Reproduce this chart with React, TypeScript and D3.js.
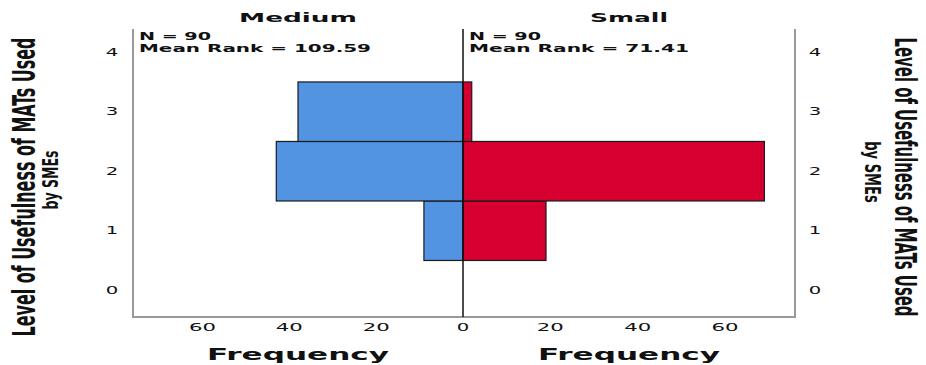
import React from "react";
import * as d3 from "d3";

const levels = [0, 1, 2, 3, 4];
const barLevels = [1, 2, 3];
const mediumFreq = [9, 43, 38];
const smallFreq = [19, 69, 2];
const freqTicks = [0, 20, 40, 60];
const panels = ["Medium", "Small"];
const statsN = ["N = 90", "N = 90"];
const statsRank = ["Mean Rank = 109.59", "Mean Rank = 71.41"];
const yTitle = ["Level of Usefulness of MATs Used", "by SMEs"];

const W = 926;
const H = 365;
const left = 133;
const mid = 463;
const right = 795;
const top = 29;
const bottom = 317;

// the picture is stretched sideways, so text is squeezed / widened to a measured length
const WideText = ({ x, y, len, size, bold = false, anchor = "start", children }: any) => (
  <text
    x={x}
    y={y}
    textAnchor={anchor}
    fontFamily="DejaVu Sans"
    fontWeight={bold ? "bold" : "normal"}
    fontSize={size}
    textLength={len}
    lengthAdjust="spacingAndGlyphs"
    fill="#111"
  >
    {children}
  </text>
);

// rotated title, condensed along its length
const SideTitle = ({ x, y, angle, len, size, stretch, children }: any) => (
  <g transform={`translate(${x},${y}) rotate(${angle}) scale(1,${stretch})`}>
    <text
      x={0}
      y={0}
      textAnchor="middle"
      fontFamily="DejaVu Sans Condensed, DejaVu Sans"
      fontWeight="bold"
      fontSize={size}
      textLength={len}
      lengthAdjust="spacingAndGlyphs"
      fill="#111"
    >
      {children}
    </text>
  </g>
);

// short rotated line, scaled explicitly (x along the text, y across it)
const SideLine = ({ x, y, angle, sx, sy, size, children }: any) => (
  <g transform={`translate(${x},${y}) rotate(${angle}) scale(${sx},${sy})`}>
    <text x={0} y={0} textAnchor="middle" fontFamily="DejaVu Sans" fontWeight="bold" fontSize={size} fill="#111">
      {children}
    </text>
  </g>
);

const App = () => {
  const xL = d3.scaleLinear().domain([0, 76]).range([mid, left]);
  const xR = d3.scaleLinear().domain([0, 76]).range([mid, right]);
  const y = d3.scaleLinear().domain([-0.45, 4.39]).range([bottom, top]);
  const bandH = y(0) - y(1);
  const digitW = 12.5;

  return (
    <svg width={W} height={H} style={{ position: "absolute", left: 0, top: 0, background: "#fff" }}>
      {/* bars */}
      {barLevels.map((lv, i) => (
        <rect
          key={"m" + lv}
          x={xL(mediumFreq[i])}
          y={y(lv + 0.5)}
          width={xL(0) - xL(mediumFreq[i])}
          height={bandH}
          fill="#5294e2"
          stroke="#1a1a1a"
          strokeWidth={1.2}
        />
      ))}
      {barLevels.map((lv, i) => (
        <rect
          key={"s" + lv}
          x={xR(0)}
          y={y(lv + 0.5)}
          width={xR(smallFreq[i]) - xR(0)}
          height={bandH}
          fill="#d60030"
          stroke="#1a1a1a"
          strokeWidth={1.2}
        />
      ))}

      {/* frame */}
      <line x1={left} x2={left} y1={top} y2={bottom + 1} stroke="#999" strokeWidth={2} />
      <line x1={right} x2={right} y1={top} y2={bottom + 1} stroke="#999" strokeWidth={2} />
      <line x1={left} x2={right} y1={bottom} y2={bottom} stroke="#999" strokeWidth={2} />
      <line x1={mid} x2={mid} y1={top} y2={bottom} stroke="#111" strokeWidth={1.5} />

      {/* y tick labels */}
      {levels.map((lv) => (
        <g key={"y" + lv}>
          <WideText x={112} y={y(lv) + 3.5} len={digitW} size={10} anchor="middle">{lv}</WideText>
          <WideText x={815} y={y(lv) + 3.5} len={digitW} size={10} anchor="middle">{lv}</WideText>
        </g>
      ))}

      {/* x tick labels */}
      {freqTicks.map((t) => {
        const len = t === 0 ? digitW : digitW * 2 + 2;
        return (
          <g key={"x" + t}>
            <WideText x={xL(t)} y={331} len={len} size={10} anchor="middle">{t}</WideText>
            {t > 0 && (
              <WideText x={xR(t)} y={331} len={len} size={10} anchor="middle">{t}</WideText>
            )}
          </g>
        );
      })}

      {/* panel titles, stats, frequency labels */}
      {panels.map((p, i) => {
        const cx = i === 0 ? (left + mid) / 2 : (mid + right) / 2;
        const x0 = i === 0 ? left : mid;
        return (
          <g key={p}>
            <WideText x={cx} y={22} len={i === 0 ? 118 : 78} size={13} bold anchor="middle">{p}</WideText>
            <WideText x={x0 + 6} y={40} len={72} size={10.5} bold>{statsN[i]}</WideText>
            <WideText x={x0 + 6} y={51.5} len={i === 0 ? 232 : 220} size={10.5} bold>{statsRank[i]}</WideText>
            <WideText x={cx} y={360} len={182} size={16} bold anchor="middle">Frequency</WideText>
          </g>
        );
      })}

      {/* y axis titles */}
      <SideTitle x={35} y={187} angle={-90} len={299} size={20} stretch={1.6}>{yTitle[0]}</SideTitle>
      <SideLine x={58} y={180} angle={-90} sx={0.66} sy={1.15} size={19}>{yTitle[1]}</SideLine>
      <SideTitle x={895} y={177} angle={90} len={279} size={20} stretch={1.55}>{yTitle[0]}</SideTitle>
      <SideLine x={865} y={172} angle={90} sx={0.69} sy={1.15} size={19}>{yTitle[1]}</SideLine>
    </svg>
  );
};

export default App;
